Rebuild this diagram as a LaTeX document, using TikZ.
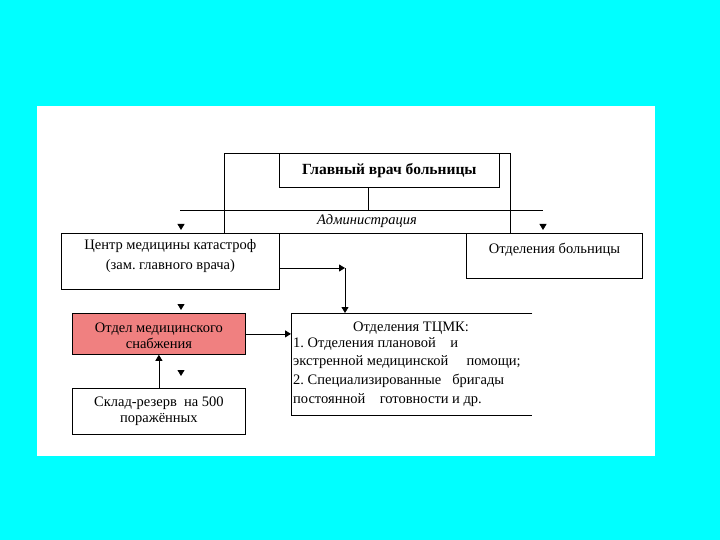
\documentclass[tikz,border=0pt]{standalone}
\usepackage{fontspec}
\setmainfont{Liberation Serif}
\usetikzlibrary{arrows.meta,positioning}
\definecolor{screencyan}{RGB}{0,255,255}
\definecolor{snabred}{RGB}{240,128,128}
\frenchspacing
\begin{document}
\begin{tikzpicture}[x=1pt, y=-1pt,
    box/.style={draw, line width=0.8pt, anchor=north west, inner sep=0pt, align=center, font=\fontsize{14.5}{16.5}\selectfont},
    lbl/.style={inner sep=0pt, align=center, font=\fontsize{14.5}{20}\selectfont},
    arr/.style={-{Triangle[length=6pt, width=7pt]}, line width=0.8pt}]
  % slide background
  \fill[screencyan] (0,0) rectangle (720,540);
  \fill[white] (37,106) rectangle (655,456);
  % head of the hospital and its frame
  \node[box, minimum width=220pt, minimum height=34pt, font=\fontsize{15.5}{17}\selectfont\bfseries] (gv) at (279,153) {Главный врач больницы};
  \draw[line width=0.8pt] (224,233) |- (510,153) -- (510,233);
  \draw[line width=0.8pt] ([xshift=-21pt]gv.south) -- ++(0,23) coordinate (admtop);
  % administration band
  \draw[line width=0.8pt] (180,210) -- (543,210);
  \node[lbl, font=\fontsize{14.5}{17}\selectfont\itshape] (adm) at (367,221) {Администрация};
  \node[box, minimum width=218pt, minimum height=56pt] (centr) at (61,233) {};
  \node[lbl, below=6pt of centr.north] (centrtxt) {Центр медицины катастроф\\(зам. главного врача)};
  \node[box, minimum width=176pt, minimum height=45pt] (otd) at (466,233) {};
  \node[lbl, below=10pt of otd.north] (otdtxt) {Отделения больницы};
  \draw[line width=0.8pt] (centr.north east) -- (otd.north west);
  % loose arrow tips
  \foreach \x/\y in {181/224, 543/224, 181/304, 181/370}
    \draw[arr] (\x,\y) -- ++(0,6);
  % TCMK departments (box open on the right)
  \node[anchor=north west, inner sep=0pt, minimum width=241pt, minimum height=102pt] (tcmk) at (291,313) {};
  \draw[line width=0.8pt] (tcmk.north east) -- (tcmk.north west) -- (tcmk.south west) -- (tcmk.south east);
  \node[lbl] (tcmkhead) at (411,328) {Отделения ТЦМК:};
  \node[lbl, anchor=north west, align=left, font=\fontsize{14.5}{18.7}\selectfont] (tcmkbody) at (293,337)
    {1. Отделения плановой~~~~и\\экстренной медицинской~~~~~помощи;\\2. Специализированные~~~бригады\\постоянной~~~~готовности и др.};
  \coordinate (bend) at (345,268);
  \draw[arr] (centr.east |- bend) -- (bend);
  \draw[arr] (bend) -- (tcmk.north -| bend);
  % supply department and store
  \node[box, fill=snabred, minimum width=173pt, minimum height=41pt] (snab) at (72,313) {};
  \node[lbl, font=\fontsize{14.5}{16}\selectfont, below=10pt of snab.north] (snabtxt) {Отдел медицинского\\снабжения};
  \draw[arr] (snab.east) -- (tcmk.west |- snab.east);
  \node[box, minimum width=173pt, minimum height=46pt] (sklad) at (72,388) {Склад-резерв~~на 500\\поражённых};
  \draw[arr] (sklad.north) -- (snab.south);
\end{tikzpicture}
\end{document}
